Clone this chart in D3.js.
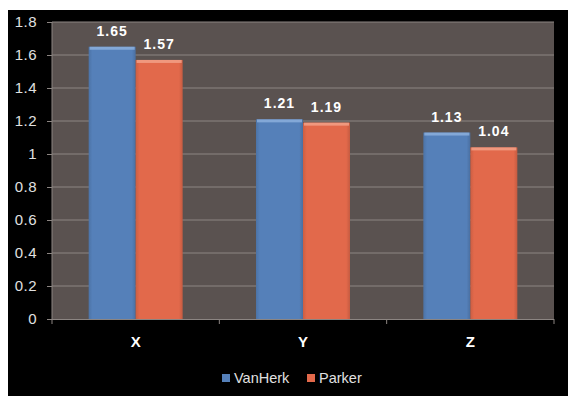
<!DOCTYPE html>
<html>
<head>
<meta charset="utf-8">
<script src="https://cdn.jsdelivr.net/npm/d3@7"></script>
<style>
  body { margin: 0; background: #fff; }
  svg { display: block; font-family: "Liberation Sans", Arial, sans-serif; }
</style>
</head>
<body>
<div id="container"></div>
<script>
// data
const categories = ["X", "Y", "Z"];
const seriesNames = ["VanHerk", "Parker"];
const vanHerk = [1.65, 1.21, 1.13];
const parker = [1.57, 1.19, 1.04];
const yTicks = [0, 0.2, 0.4, 0.6, 0.8, 1, 1.2, 1.4, 1.6, 1.8];

const width = 568, height = 396;
const plot = { left: 52, right: 554, top: 22, bottom: 319 };
const colors = ["#5580b9", "#e2694b"];
const lightColors = ["#8eb1de", "#f4a48b"];

const svg = d3.select("#container").append("svg")
  .attr("width", width).attr("height", height);

// black frame, white strip top/left
svg.append("rect").attr("x", 8).attr("y", 10)
  .attr("width", width - 8).attr("height", height - 10).attr("fill", "#000");

const x = d3.scaleBand().domain(categories).range([plot.left, plot.right]);
const x1 = d3.scaleBand().domain(seriesNames).range([0, x.bandwidth()]).paddingOuter(0.78);
const y = d3.scaleLinear().domain([0, 1.8]).range([plot.bottom, plot.top]);

svg.append("rect").attr("x", plot.left).attr("y", plot.top)
  .attr("width", plot.right - plot.left).attr("height", plot.bottom - plot.top)
  .attr("fill", "#5a5250");

// gridlines
svg.selectAll(".grid").data(yTicks.filter(d => d > 0))
  .join("line").attr("class", "grid")
  .attr("x1", plot.left).attr("x2", plot.right)
  .attr("y1", d => y(d)).attr("y2", d => y(d))
  .attr("stroke", "#8c8582").attr("stroke-width", 1);

// gradients
const defs = svg.append("defs");
colors.forEach((c, i) => {
  const g = defs.append("linearGradient").attr("id", "g" + i)
    .attr("x1", 0).attr("x2", 1).attr("y1", 0).attr("y2", 0);
  g.append("stop").attr("offset", "0%").attr("stop-color", d3.color(c).darker(0.3));
  g.append("stop").attr("offset", "8%").attr("stop-color", c);
  g.append("stop").attr("offset", "92%").attr("stop-color", c);
  g.append("stop").attr("offset", "100%").attr("stop-color", d3.color(c).darker(0.4));
});

const rows = categories.map((c, i) => ({ cat: c, vals: [vanHerk[i], parker[i]] }));

const groups = svg.selectAll(".grp").data(rows).join("g")
  .attr("transform", d => `translate(${x(d.cat)},0)`);

const bars = groups.selectAll(".bar")
  .data(d => d.vals.map((v, i) => ({ name: seriesNames[i], v, i })))
  .join("g");

bars.append("rect")
  .attr("x", d => x1(d.name)).attr("y", d => y(d.v))
  .attr("width", x1.bandwidth()).attr("height", d => y(0) - y(d.v))
  .attr("fill", d => `url(#g${d.i})`);

bars.append("rect")
  .attr("x", d => x1(d.name) + 1).attr("y", d => y(d.v))
  .attr("width", x1.bandwidth() - 2).attr("height", 3)
  .attr("fill", d => lightColors[d.i]).attr("opacity", 0.8);

bars.append("text")
  .attr("x", d => x1(d.name) + x1.bandwidth() / 2)
  .attr("y", d => y(d.v) - 11)
  .attr("text-anchor", "middle")
  .attr("fill", "#fff").attr("font-weight", "bold").attr("font-size", 14)
  .attr("letter-spacing", 1)
  .text(d => d.v);

// y axis
const yAxis = svg.append("g").attr("transform", `translate(${plot.left},0)`)
  .call(d3.axisLeft(y).tickValues(yTicks).tickSize(5).tickPadding(10).tickFormat(d => d));
yAxis.select(".domain").attr("stroke", "#8c8582").attr("d", `M0,${plot.top}V${plot.bottom}`);
yAxis.selectAll(".tick line").attr("stroke", "#8c8582");
yAxis.selectAll("text").attr("fill", "#e0e0e0").attr("font-size", 15)
  .attr("letter-spacing", 0.5)
  .attr("font-family", "Liberation Sans, Arial, sans-serif");

// x axis
const bounds = categories.map(c => x(c)).concat([plot.right]);
svg.append("line").attr("x1", plot.left).attr("x2", plot.right)
  .attr("y1", plot.bottom + 0.5).attr("y2", plot.bottom + 0.5).attr("stroke", "#8c8582");
svg.selectAll(".xtick").data(bounds).join("line")
  .attr("x1", d => d).attr("x2", d => d)
  .attr("y1", plot.bottom).attr("y2", plot.bottom + 5).attr("stroke", "#8c8582");
svg.selectAll(".xlab").data(categories).join("text")
  .attr("x", d => x(d) + x.bandwidth() / 2).attr("y", 347)
  .attr("text-anchor", "middle").attr("fill", "#fff")
  .attr("font-weight", "bold").attr("font-size", 15).text(d => d);

// legend
const legendX = [222, 307];
const leg = svg.selectAll(".leg").data(seriesNames).join("g")
  .attr("transform", (d, i) => `translate(${legendX[i]},373)`);
leg.append("rect").attr("width", 8).attr("height", 8).attr("y", 1)
  .attr("fill", (d, i) => colors[i]);
leg.append("text").attr("x", 12).attr("y", 10)
  .attr("fill", "#e0e0e0").attr("font-size", 14.5).text(d => d);
</script>
</body>
</html>
